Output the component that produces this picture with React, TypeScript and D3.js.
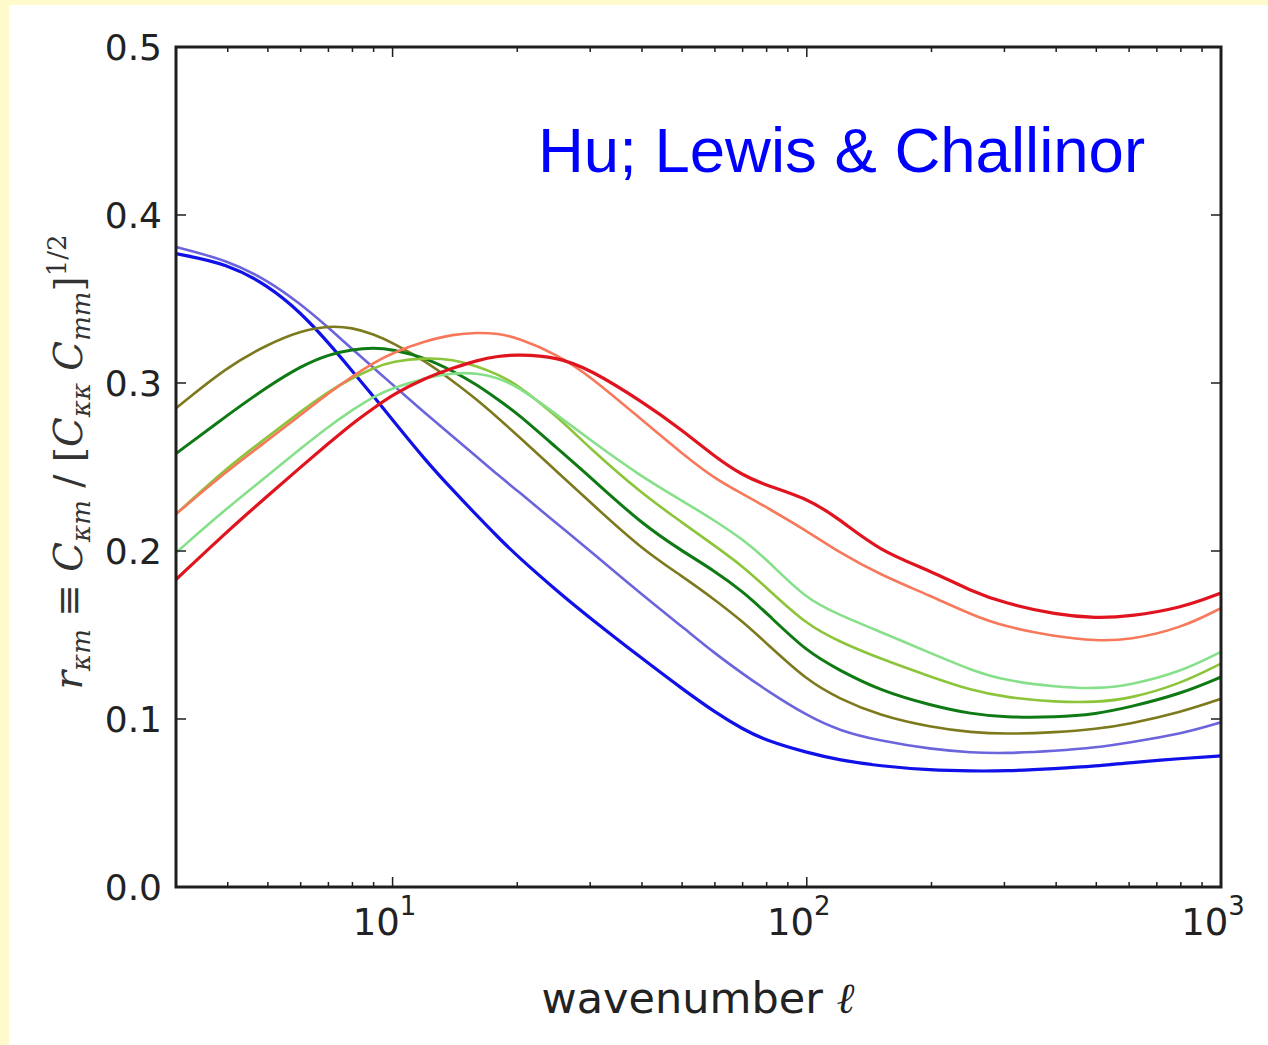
import React from 'react';
import * as d3 from 'd3';

// multipole grid (wavenumber ℓ)
const ell = [3, 4, 5, 6, 7, 8, 9, 10, 12, 14, 16, 18, 20, 25, 30, 40, 50, 60, 70, 80, 100, 120, 150, 200, 250, 300, 400, 500, 600, 800, 1000];

const blueSeries = [0.377, 0.371, 0.358, 0.342, 0.324, 0.307, 0.292, 0.278, 0.254, 0.236, 0.221, 0.208, 0.197, 0.176, 0.160, 0.136, 0.118, 0.104, 0.094, 0.087, 0.080, 0.0755, 0.072, 0.0695, 0.069, 0.069, 0.0705, 0.072, 0.074, 0.0765, 0.078];
const purpleSeries = [0.381, 0.373, 0.361, 0.347, 0.333, 0.320, 0.309, 0.299, 0.282, 0.268, 0.256, 0.245, 0.236, 0.216, 0.200, 0.174, 0.155, 0.139, 0.127, 0.117, 0.102, 0.093, 0.087, 0.082, 0.080, 0.0795, 0.081, 0.083, 0.086, 0.091, 0.098];
const oliveSeries = [0.285, 0.310, 0.323, 0.331, 0.334, 0.333, 0.329, 0.324, 0.313, 0.301, 0.290, 0.279, 0.269, 0.247, 0.229, 0.201, 0.185, 0.171, 0.158, 0.145, 0.123, 0.112, 0.102, 0.095, 0.092, 0.091, 0.092, 0.094, 0.097, 0.104, 0.112];
const darkGreenSeries = [0.258, 0.281, 0.298, 0.310, 0.317, 0.320, 0.321, 0.320, 0.315, 0.307, 0.299, 0.290, 0.282, 0.261, 0.244, 0.216, 0.200, 0.188, 0.176, 0.163, 0.140, 0.129, 0.117, 0.108, 0.103, 0.101, 0.101, 0.103, 0.107, 0.115, 0.125];
const yellowGreenSeries = [0.222, 0.250, 0.268, 0.283, 0.295, 0.303, 0.309, 0.313, 0.315, 0.314, 0.310, 0.305, 0.299, 0.280, 0.261, 0.234, 0.217, 0.203, 0.191, 0.178, 0.156, 0.146, 0.136, 0.125, 0.117, 0.113, 0.110, 0.110, 0.112, 0.121, 0.133];
const lightGreenSeries = [0.199, 0.226, 0.245, 0.261, 0.274, 0.284, 0.292, 0.297, 0.303, 0.306, 0.306, 0.303, 0.298, 0.281, 0.266, 0.244, 0.230, 0.218, 0.207, 0.195, 0.171, 0.162, 0.152, 0.139, 0.129, 0.123, 0.119, 0.118, 0.120, 0.128, 0.140];
const orangeSeries = [0.222, 0.248, 0.266, 0.281, 0.294, 0.304, 0.312, 0.318, 0.325, 0.329, 0.330, 0.3295, 0.327, 0.317, 0.304, 0.278, 0.258, 0.243, 0.234, 0.226, 0.212, 0.199, 0.186, 0.173, 0.162, 0.155, 0.149, 0.1465, 0.147, 0.154, 0.166];
const redSeries = [0.183, 0.212, 0.233, 0.250, 0.264, 0.276, 0.285, 0.293, 0.303, 0.309, 0.3135, 0.316, 0.317, 0.3155, 0.308, 0.289, 0.272, 0.256, 0.245, 0.239, 0.2315, 0.219, 0.200, 0.188, 0.176, 0.169, 0.162, 0.160, 0.161, 0.166, 0.175];

const seriesList = [
  { name: 'blue', values: blueSeries, color: '#1010e8', width: 3.2 },
  { name: 'purple', values: purpleSeries, color: '#6b64dc', width: 2.6 },
  { name: 'olive', values: oliveSeries, color: '#7d7a1e', width: 2.6 },
  { name: 'darkGreen', values: darkGreenSeries, color: '#0f7a14', width: 3 },
  { name: 'yellowGreen', values: yellowGreenSeries, color: '#8cc43a', width: 2.6 },
  { name: 'lightGreen', values: lightGreenSeries, color: '#86e08a', width: 2.6 },
  { name: 'orange', values: orangeSeries, color: '#f7785a', width: 2.6 },
  { name: 'red', values: redSeries, color: '#e0141e', width: 3.2 },
];

const yTicks = [0, 0.1, 0.2, 0.3, 0.4, 0.5];
const yTickLabels = ['0.0', '0.1', '0.2', '0.3', '0.4', '0.5'];
const xMajorTicks = [10, 100, 1000];
const xMajorExponents = ['1', '2', '3'];
const xMinorTicks = [3, 4, 5, 6, 7, 8, 9, 20, 30, 40, 50, 60, 70, 80, 90, 200, 300, 400, 500, 600, 700, 800, 900];

const W = 1268;
const H = 1045;
const L = 176, R = 1221, T = 47, B = 887;

export default function App() {
  const x = d3.scaleLog().domain([3, 1000]).range([L, R]);
  const y = d3.scaleLinear().domain([0, 0.5]).range([B, T]);
  const line = d3
    .line<number>()
    .x((_, i) => x(ell[i]))
    .y((d) => y(d))
    .curve(d3.curveBasis);

  const axisColor = '#1e1e1e';
  const tickFont = 'DejaVu Sans, Verdana, sans-serif';
  const mathFont = 'DejaVu Serif, Liberation Serif, serif';

  return (
    <svg width={W} height={H} style={{ position: 'absolute', left: 0, top: 0 }}>
      <rect x={0} y={0} width={W} height={H} fill="#fffacb" />
      <rect x={9} y={5} width={W - 9} height={H - 5} fill="#ffffff" />
      <defs>
        <clipPath id="plotClip">
          <rect x={L} y={T} width={R - L} height={B - T} />
        </clipPath>
      </defs>

      <g clipPath="url(#plotClip)">
        {seriesList.map((s) => (
          <path key={s.name} d={line(s.values) || ''} fill="none" stroke={s.color} strokeWidth={s.width} strokeLinejoin="round" />
        ))}
      </g>

      {/* ticks */}
      <g stroke={axisColor} strokeWidth={1.5}>
        {yTicks.map((t) => (
          <g key={'yt' + t}>
            <line x1={L} x2={L + 10} y1={y(t)} y2={y(t)} />
            <line x1={R} x2={R - 10} y1={y(t)} y2={y(t)} />
          </g>
        ))}
        {xMajorTicks.map((t) => (
          <g key={'xM' + t}>
            <line x1={x(t)} x2={x(t)} y1={B} y2={B - 10} />
            <line x1={x(t)} x2={x(t)} y1={T} y2={T + 10} />
          </g>
        ))}
        {xMinorTicks.map((t) => (
          <g key={'xm' + t}>
            <line x1={x(t)} x2={x(t)} y1={B} y2={B - 5} />
            <line x1={x(t)} x2={x(t)} y1={T} y2={T + 5} />
          </g>
        ))}
      </g>

      {/* frame */}
      <rect x={L} y={T} width={R - L} height={B - T} fill="none" stroke={axisColor} strokeWidth={3} />

      {/* y tick labels */}
      {yTicks.map((t, i) => (
        <text key={'yl' + t} x={162} y={y(t) + 13} textAnchor="end" fontFamily={tickFont} fontSize={36} fill="#222">
          {yTickLabels[i]}
        </text>
      ))}

      {/* x tick labels */}
      {xMajorTicks.map((t, i) => (
        <text key={'xl' + t} x={x(t) - 8} y={935} textAnchor="middle" fontFamily={tickFont} fontSize={37} fill="#222">
          10
          <tspan fontSize={26} dy={-20}>{xMajorExponents[i]}</tspan>
        </text>
      ))}

      {/* x label */}
      <text x={698} y={1013} textAnchor="middle" fontFamily={tickFont} fontSize={43} fill="#222">
        wavenumber <tspan fontFamily={mathFont} fontStyle="italic">ℓ</tspan>
      </text>

      {/* y label */}
      <text
        transform={`translate(82, ${462}) rotate(-90)`}
        textAnchor="middle"
        fontFamily={mathFont}
        fontSize={39}
        fill="#333"
      >
        <tspan fontStyle="italic">r</tspan>
        <tspan fontStyle="italic" fontSize={26} dy={8}>κm</tspan>
        <tspan dy={-8}> ≡ </tspan>
        <tspan fontStyle="italic">C</tspan>
        <tspan fontStyle="italic" fontSize={26} dy={8}>κm</tspan>
        <tspan dy={-8}> / [</tspan>
        <tspan fontStyle="italic">C</tspan>
        <tspan fontStyle="italic" fontSize={26} dy={8}>κκ</tspan>
        <tspan dy={-8}> </tspan>
        <tspan fontStyle="italic">C</tspan>
        <tspan fontStyle="italic" fontSize={26} dy={8}>mm</tspan>
        <tspan dy={-8}>]</tspan>
        <tspan fontSize={26} dy={-16}>1/2</tspan>
      </text>

      {/* annotation */}
      <text x={538} y={172} fontFamily="Liberation Sans, Arial, sans-serif" fontSize={63.5} fill="#0000ff">
        Hu; Lewis &amp; Challinor
      </text>
    </svg>
  );
}
